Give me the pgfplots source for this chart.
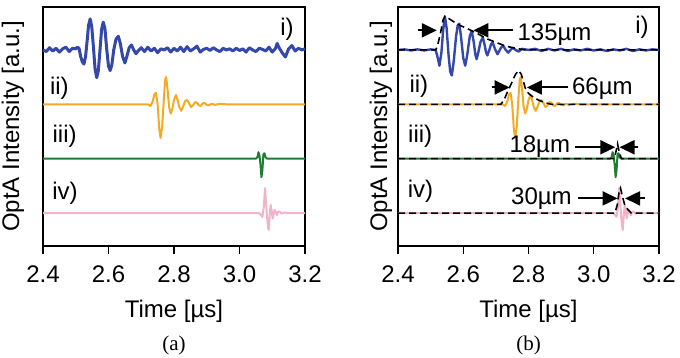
\documentclass[border=0pt]{standalone}
\usepackage{pgfplots}
\pgfplotsset{compat=1.18}
\usepackage{pgfplotstable}
\usepackage{fontspec}
\setmainfont{Liberation Sans}
\newfontfamily\seriffont{Liberation Serif}
\usetikzlibrary{arrows.meta}
\definecolor{cblue}{RGB}{52,72,170}
\definecolor{corange}{RGB}{245,170,35}
\definecolor{cgreen}{RGB}{30,125,50}
\definecolor{cpink}{RGB}{242,178,200}
\newcommand\bigf{\fontsize{24}{28}\selectfont}

\pgfplotstableread{
t a
2.400 0.00
2.410 -0.03
2.420 0.04
2.430 -0.02
2.440 0.03
2.450 -0.04
2.460 0.02
2.470 0.05
2.480 -0.03
2.490 0.03
2.500 0.02
2.505 0.05
2.510 0.03
2.515 -0.12
2.520 -0.22
2.525 -0.26
2.530 -0.12
2.535 0.18
2.539 0.45
2.544 0.57
2.549 0.42
2.554 0.05
2.559 -0.35
2.564 -0.51
2.569 -0.38
2.574 0.00
2.579 0.38
2.584 0.51
2.589 0.40
2.594 0.05
2.600 -0.30
2.605 -0.38
2.610 -0.28
2.616 0.00
2.623 0.20
2.630 0.25
2.636 0.12
2.643 -0.12
2.650 -0.24
2.656 -0.12
2.663 0.04
2.670 0.09
2.677 0.00
2.684 -0.07
2.690 -0.02
2.700 0.04
2.710 -0.03
2.720 0.05
2.730 -0.02
2.740 0.03
2.750 -0.05
2.760 0.02
2.770 0.00
2.780 0.04
2.790 -0.04
2.800 0.03
2.810 -0.02
2.820 0.05
2.830 -0.03
2.840 0.06
2.850 -0.02
2.860 0.02
2.870 0.07
2.880 -0.04
2.890 0.01
2.900 0.03
2.910 -0.01
2.920 0.04
2.930 0.00
2.940 -0.03
2.950 0.03
2.960 0.00
2.970 0.02
2.980 -0.02
2.990 0.03
3.000 -0.01
3.010 0.02
3.020 -0.04
3.030 0.04
3.040 0.00
3.050 -0.03
3.060 0.03
3.070 0.01
3.080 -0.02
3.090 0.05
3.100 -0.04
3.110 0.03
3.115 0.12
3.120 0.05
3.130 -0.05
3.140 -0.13
3.150 0.02
3.160 0.08
3.170 -0.02
3.180 0.03
3.190 0.00
3.200 0.02
}\blueL

\pgfplotstableread{
t a
2.400 0.00
2.420 0.01
2.440 -0.01
2.460 0.01
2.480 -0.01
2.500 0.01
2.515 0.00
2.520 -0.10
2.527 -0.29
2.533 -0.05
2.539 0.40
2.544 0.61
2.549 0.40
2.555 -0.10
2.560 -0.40
2.565 -0.47
2.571 -0.20
2.578 0.25
2.583 0.45
2.588 0.48
2.593 0.25
2.600 -0.15
2.606 -0.29
2.612 -0.10
2.620 0.25
2.626 0.35
2.632 0.15
2.637 -0.08
2.641 -0.17
2.646 -0.05
2.653 0.15
2.660 0.23
2.666 0.08
2.670 -0.05
2.674 -0.10
2.680 0.00
2.685 0.10
2.690 0.14
2.697 0.02
2.705 -0.08
2.712 0.00
2.718 0.06
2.723 0.07
2.730 0.00
2.738 -0.05
2.745 0.00
2.752 0.04
2.760 0.00
2.770 -0.03
2.780 0.02
2.800 0.00
2.820 0.02
2.840 -0.02
2.860 0.02
2.880 -0.01
2.900 0.02
2.920 -0.02
2.940 0.01
2.960 -0.01
2.980 0.02
3.000 -0.01
3.020 0.01
3.040 -0.02
3.060 0.01
3.080 -0.01
3.100 0.02
3.120 -0.02
3.140 0.01
3.160 -0.01
3.180 0.01
3.200 0.00
}\blueR

\pgfplotstableread{
t a
2.400 0.00
2.720 0.00
2.728 -0.03
2.735 0.05
2.740 0.18
2.745 0.21
2.750 0.00
2.755 -0.45
2.759 -0.62
2.764 -0.40
2.769 0.10
2.773 0.45
2.776 0.50
2.780 0.30
2.785 -0.05
2.790 -0.17
2.795 -0.08
2.800 0.08
2.806 0.17
2.811 0.08
2.816 -0.05
2.822 -0.12
2.828 -0.04
2.834 0.06
2.840 0.08
2.846 0.02
2.852 -0.05
2.858 -0.02
2.864 0.04
2.870 0.03
2.876 -0.02
2.882 -0.03
2.888 0.02
2.894 0.02
2.900 -0.01
2.906 -0.02
2.915 0.01
2.925 -0.01
2.940 0.01
2.960 0.00
3.200 0.00
}\orange

\pgfplotstableread{
t a
2.400 0.00
3.050 0.00
3.055 0.03
3.058 0.12
3.061 0.05
3.064 -0.10
3.067 -0.34
3.070 -0.20
3.073 0.08
3.076 0.10
3.080 0.02
3.085 0.00
3.200 0.00
}\green

\pgfplotstableread{
t a
2.400 0.00
3.060 0.00
3.066 -0.04
3.070 -0.07
3.074 0.10
3.078 0.46
3.082 0.10
3.086 -0.20
3.089 -0.31
3.092 -0.05
3.095 0.15
3.098 0.05
3.101 -0.10
3.104 -0.02
3.107 0.06
3.110 0.03
3.114 -0.04
3.118 0.02
3.122 0.03
3.128 -0.01
3.135 0.01
3.150 0.00
3.200 0.00
}\pink

\pgfplotstableread{
t a
2.400 0.00
2.515 0.00
2.520 0.05
2.530 0.30
2.538 0.55
2.544 0.62
2.555 0.58
2.570 0.52
2.590 0.45
2.610 0.40
2.630 0.34
2.650 0.28
2.670 0.21
2.700 0.14
2.730 0.07
2.760 0.03
2.790 0.00
3.200 0.00
}\envA

\pgfplotstableread{
t a
2.400 0.00
2.715 0.00
2.725 0.08
2.735 0.22
2.745 0.35
2.760 0.55
2.770 0.62
2.778 0.55
2.790 0.30
2.800 0.20
2.815 0.13
2.830 0.08
2.850 0.03
2.870 0.00
3.200 0.00
}\envB

\pgfplotstableread{
t a
2.400 0.00
3.062 0.00
3.067 0.10
3.073 0.27
3.079 0.10
3.085 0.00
3.200 0.00
}\envC

\pgfplotstableread{
t a
2.400 0.00
3.065 0.00
3.072 0.15
3.078 0.40
3.082 0.46
3.088 0.30
3.095 0.15
3.105 0.06
3.115 0.00
3.200 0.00
}\envD

\tikzset{
 arr/.style={black, line width=2pt, -{Triangle[length=15pt,width=14pt]}},
}
\pgfplotsset{
 panel/.style={
  scale only axis, width=262pt, height=239pt,
  xmin=2.4, xmax=3.2, ymin=0.395, ymax=4.789,
  clip=false,
  xtick={2.4,2.6,2.8,3.0,3.2}, xticklabels={2.4,2.6,2.8,3.0,3.2},
  ytick=\empty, xtick pos=left, tick align=outside,
  major tick length=8pt,
  axis line style={line width=1.2pt, black},
  xtick style={black, line width=1.2pt},
  tick label style={font=\bigf},
  xticklabel style={inner sep=0pt, anchor=north, yshift=-12pt},
  xlabel={Time [µs]},
  ylabel={OptA Intensity [a.u.]},
  every axis x label/.style={at={(axis description cs:0.5,-0.272)}, anchor=center, font=\bigf},
 },
 env/.style={black, line width=1.6pt, dash pattern=on 7pt off 4pt},
}

\begin{document}
\begin{tikzpicture}
\useasboundingbox (0pt,0pt) rectangle (680pt,358pt);
\begin{axis}[panel, at={(43pt,112pt)}, anchor=south west,
  every axis y label/.style={at={(axis description cs:-0.1145,0.5)}, rotate=90, anchor=center, font=\bigf}]
\addplot[cblue, line width=3pt, line join=round] table[x=t, y expr=\thisrow{a}+4] {\blueL};
\addplot[corange, line width=2pt, line join=round] table[x=t, y expr=\thisrow{a}+3] {\orange};
\addplot[cgreen, line width=2pt, line join=round] table[x=t, y expr=\thisrow{a}+2] {\green};
\addplot[cpink, line width=2pt, line join=round] table[x=t, y expr=\thisrow{a}+1] {\pink};
\node[font=\bigf] at (axis cs:3.145,4.37) {i)};
\node[font=\bigf] at (axis cs:2.45,3.29) {ii)};
\node[font=\bigf] at (axis cs:2.466,2.42) {iii)};
\node[font=\bigf] at (axis cs:2.467,1.37) {iv)};
\node[font=\seriffont\fontsize{21}{24}\selectfont] at (axis description cs:0.5,-0.415) {(a)};
\end{axis}
\begin{axis}[panel, at={(398pt,112pt)}, anchor=south west, width=261pt,
  every axis y label/.style={at={(axis description cs:-0.065,0.5)}, rotate=90, anchor=center, font=\bigf}]
\addplot[cblue, line width=2.4pt, line join=round] table[x=t, y expr=\thisrow{a}+4] {\blueR};
\addplot[corange, line width=2pt, line join=round] table[x=t, y expr=\thisrow{a}+3] {\orange};
\addplot[cgreen, line width=2pt, line join=round] table[x=t, y expr=\thisrow{a}+2] {\green};
\addplot[cpink, line width=2pt, line join=round] table[x=t, y expr=\thisrow{a}+1] {\pink};
\addplot[env] table[x=t, y expr=\thisrow{a}+4] {\envA};
\addplot[env] table[x=t, y expr=\thisrow{a}+3] {\envB};
\addplot[env] table[x=t, y expr=\thisrow{a}+2] {\envC};
\addplot[env] table[x=t, y expr=\thisrow{a}+1] {\envD};
\draw[arr] (axis cs:2.461,4.36) -- (axis cs:2.519,4.36);
\draw[arr] (axis cs:2.754,4.36) -- (axis cs:2.631,4.36);
\node[font=\bigf, anchor=base west, inner sep=0pt] at (axis cs:2.766,4.165) {135µm};
\draw[arr] (axis cs:2.687,3.31) -- (axis cs:2.742,3.31);
\draw[arr] (axis cs:2.922,3.31) -- (axis cs:2.795,3.31);
\node[font=\bigf, anchor=base west, inner sep=0pt] at (axis cs:2.933,3.18) {66µm};
\draw[arr] (axis cs:2.943,2.21) -- (axis cs:3.066,2.21);
\draw[arr] (axis cs:3.137,2.21) -- (axis cs:3.079,2.21);
\node[font=\bigf, anchor=base east, inner sep=0pt] at (axis cs:2.928,2.115) {18µm};
\draw[arr] (axis cs:2.953,1.27) -- (axis cs:3.073,1.27);
\draw[arr] (axis cs:3.158,1.27) -- (axis cs:3.096,1.27);
\node[font=\bigf, anchor=base east, inner sep=0pt] at (axis cs:2.933,1.16) {30µm};
\node[font=\bigf] at (axis cs:3.148,4.42) {i)};
\node[font=\bigf] at (axis cs:2.464,3.33) {ii)};
\node[font=\bigf] at (axis cs:2.468,2.42) {iii)};
\node[font=\bigf] at (axis cs:2.469,1.40) {iv)};
\node[font=\seriffont\fontsize{21}{24}\selectfont] at (axis description cs:0.5,-0.415) {(b)};
\end{axis}
\end{tikzpicture}
\end{document}
